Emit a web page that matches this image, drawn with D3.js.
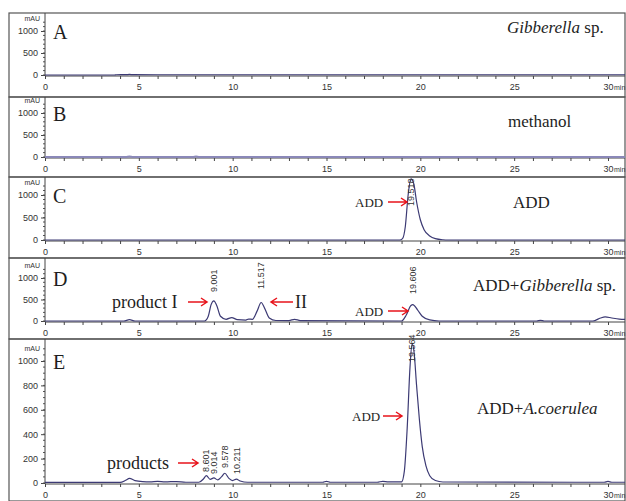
<!DOCTYPE html>
<html>
<head>
<meta charset="utf-8">
<script src="https://cdn.jsdelivr.net/npm/d3@7"></script>
<style>
  body { margin: 0; background: #fff; }
  svg { display: block; }
  .tick text { font-family: "Liberation Sans", Arial, sans-serif; font-size: 9px; fill: #333; }
  .serif { font-family: "Liberation Serif", "Times New Roman", serif; fill: #1e1e1e; }
  .pk { font-family: "Liberation Sans", Arial, sans-serif; font-size: 9px; fill: #333; }
</style>
</head>
<body>
<script>
// chromatogram traces: [retention time (min), absorbance (mAU)]
const traceA = [[0,0],[3.7,0],[3.8,6],[4.3,7],[4.5,14],[4.7,7],[6,6],[31,6]];
const traceB = [[0,2],[4.3,2],[4.5,10],[4.7,2],[7.9,2],[8.05,10],[8.2,2],[31,2]];
const traceC = [[0,0],[18.9,0],[19.05,30],[19.2,300],[19.35,1000],[19.5,1360],[19.65,1250],[19.8,850],
  [20.0,450],[20.2,230],[20.5,90],[20.8,30],[21.2,5],[21.5,0],[31,0]];
const traceD = [[0,0],[4.2,0],[4.5,30],[4.8,0],[8.5,0],[8.7,110],[8.85,380],[9.0,470],[9.15,360],[9.35,110],
  [9.65,40],[9.95,80],[10.25,30],[10.7,20],[10.85,45],[11.05,40],[11.3,230],[11.52,430],[11.7,300],[11.95,70],
  [12.3,12],[13.0,10],[13.3,40],[13.6,10],[19.0,0],[19.25,140],[19.5,360],[19.6,380],[19.85,260],[20.1,110],
  [20.5,25],[21,0],[26.2,0],[26.4,15],[26.6,0],[29.2,0],[29.6,70],[29.85,95],[30.2,70],[30.6,45],[31,35]];
const traceE = [[0,5],[4.0,5],[4.3,22],[4.5,38],[4.8,20],[5.2,12],[5.6,10],[6,14],[6.4,9],[7,12],[7.5,6],[8.2,6],
  [8.45,35],[8.6,60],[8.8,30],[9.0,42],[9.2,26],[9.4,50],[9.58,80],[9.8,38],[10.0,20],[10.2,32],[10.4,16],
  [10.8,6],[14.8,6],[15,14],[15.2,6],[17.7,6],[18,14],[18.3,9],[19.0,10],[19.15,100],[19.3,450],[19.45,950],
  [19.56,1140],[19.66,1080],[19.8,800],[19.95,520],[20.1,300],[20.3,140],[20.5,60],[20.8,20],[21.2,8],
  [29.8,6],[30,13],[30.2,6],[31,6]];

// peak labels: [retention time, text]
const peaksC = [[19.518, "19.518"]];
const peaksD = [[9.001, "9.001"], [11.517, "11.517"], [19.606, "19.606"]];
const peaksE = [[8.601, "8.601"], [9.014, "9.014"], [9.578, "9.578"], [10.211, "10.211"], [19.564, "19.564"]];

const xTicks = d3.range(0, 31, 1);
const yTicksSmall = [0, 500, 1000];
const yTicksLarge = [0, 200, 400, 600, 800, 1000];

const W = 626, H = 501;
const svg = d3.select("body").append("svg").attr("width", W).attr("height", H);

const x = d3.scaleLinear().domain([0, 30]).range([45, 608]);
const frameL = 9, frameR = 625;

const panels = [
  {id: "A", top: 13, bottom: 97, y0: 75, y1000: 31, yMax: 1250, ticks: yTicksSmall, minor: 100, trace: traceA, peaks: [], lblY: 0},
  {id: "B", top: 97, bottom: 177, y0: 157, y1000: 113, yMax: 1250, ticks: yTicksSmall, minor: 100, trace: traceB, peaks: [], lblY: 0},
  {id: "C", top: 177, bottom: 258, y0: 240, y1000: 195, yMax: 1250, ticks: yTicksSmall, minor: 100, trace: traceC, peaks: peaksC, lblY: [206]},
  {id: "D", top: 258, bottom: 339, y0: 321, y1000: 278, yMax: 1250, ticks: yTicksSmall, minor: 100, trace: traceD, peaks: peaksD, lblY: [292, 289, 294]},
  {id: "E", top: 339, bottom: 501, y0: 483, y1000: 361, yMax: 1150, ticks: yTicksLarge, minor: 50, trace: traceE, peaks: peaksE, lblY: [472, 474, 468, 474, 362]}
];

const line = d3.line().x(d => x(d[0])).curve(d3.curveMonotoneX);

panels.forEach((p, i) => {
  const y = d3.scaleLinear().domain([0, 1000]).range([p.y0, p.y1000]);
  const g = svg.append("g");

  // panel frame
  g.append("rect").attr("x", frameL).attr("y", p.top).attr("width", frameR - frameL).attr("height", p.bottom - p.top)
    .attr("fill", "none").attr("stroke", "#555").attr("stroke-width", 1.2);

  // y axis
  const ya = g.append("g").attr("transform", "translate(" + x(0) + ",0)")
    .call(d3.axisLeft(y).tickValues(p.ticks).tickSize(4).tickPadding(3).tickFormat(d3.format("d")));
  ya.select(".domain").remove();
  ya.selectAll(".tick line").attr("stroke", "#444");
  g.append("g").selectAll("line").data(d3.range(0, p.yMax, p.minor)).enter().append("line")
    .attr("x1", x(0) - 2).attr("x2", x(0)).attr("y1", d => y(d)).attr("y2", d => y(d)).attr("stroke", "#555");
  g.append("line").attr("x1", x(0)).attr("x2", x(0)).attr("y1", p.top).attr("y2", p.y0 + 1).attr("stroke", "#444");
  g.append("text").attr("x", 40).attr("y", p.y1000 - 10).attr("text-anchor", "end")
    .style("font", "7px 'Liberation Sans', Arial, sans-serif").attr("fill", "#333").text("mAU");

  // x axis
  const xa = g.append("g").attr("transform", "translate(0," + (p.y0 + 1) + ")")
    .call(d3.axisBottom(x).tickValues(xTicks).tickSize(3).tickPadding(5).tickFormat(d => d % 5 === 0 ? d : ""));
  xa.select(".domain").remove();
  xa.selectAll(".tick line").attr("stroke", "#444");
  g.append("line").attr("x1", x(0)).attr("x2", frameR).attr("y1", p.y0 + 1).attr("y2", p.y0 + 1).attr("stroke", "#444");
  g.append("text").attr("x", 614).attr("y", p.y0 + 15)
    .style("font", "7px 'Liberation Sans', Arial, sans-serif").attr("fill", "#333").text("min");

  // trace
  svg.append("clipPath").attr("id", "clip" + i).append("rect")
    .attr("x", x(0)).attr("y", p.top + 1).attr("width", frameR - x(0)).attr("height", p.y0 - p.top);
  g.append("path").datum(p.trace).attr("clip-path", "url(#clip" + i + ")")
    .attr("d", line.y(d => y(d[1])))
    .attr("fill", "none").attr("stroke", p.id === "B" ? "#8a88b8" : "#3c3a74")
    .attr("stroke-width", p.id === "B" ? 2 : 1.2);

  // peak retention-time labels
  g.selectAll(".pk").data(p.peaks).enter().append("text").attr("class", "pk")
    .attr("transform", (d, j) => "translate(" + (x(d[0]) + 3) + "," + p.lblY[j] + ") rotate(-90)")
    .text(d => d[1]);

  // panel letter
  g.append("text").attr("class", "serif").attr("x", 53).attr("y", p.y1000 + 8)
    .style("font-size", "20px").text(p.id);
});

// right-hand sample names
function title(xp, yp, parts) {
  const t = svg.append("text").attr("class", "serif").attr("x", xp).attr("y", yp).style("font-size", "17px");
  parts.forEach(s => t.append("tspan").style("font-style", s[1] ? "italic" : "normal").text(s[0]));
}
title(507, 33, [["Gibberella", 1], [" sp.", 0]]);
title(508, 127, [["methanol", 0]]);
title(513, 208, [["ADD", 0]]);
title(473, 291, [["ADD+", 0], ["Gibberella", 1], [" sp.", 0]]);
title(477, 414, [["ADD+", 0], ["A.coerulea", 1]]);

// annotations
function note(xp, yp, s, size) {
  svg.append("text").attr("class", "serif").attr("x", xp).attr("y", yp).style("font-size", size + "px").text(s);
}
note(355, 207, "ADD", 13);
note(355, 316, "ADD", 13);
note(352, 421, "ADD", 13);
note(112, 308, "product I", 18);
note(295, 308, "II", 18);
note(107, 469, "products", 18);

function arrow(x1, x2, yp) {
  const dir = x2 > x1 ? 1 : -1;
  svg.append("path")
    .attr("d", "M" + x1 + "," + yp + "H" + x2 + "M" + (x2 - dir * 6) + "," + (yp - 4) + "L" + x2 + "," + yp + "L" + (x2 - dir * 6) + "," + (yp + 4))
    .attr("fill", "none").attr("stroke", "#e8141b").attr("stroke-width", 1.5);
}
arrow(388, 407, 202);
arrow(188, 207, 302);
arrow(293, 271, 302);
arrow(388, 408, 311);
arrow(178, 198, 463);
arrow(383, 402, 416);
</script>
</body>
</html>
